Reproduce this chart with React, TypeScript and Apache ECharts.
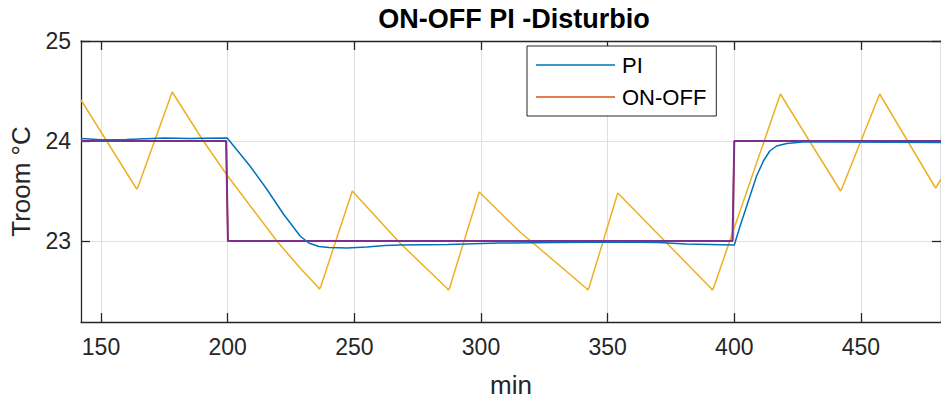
import React, { useEffect, useRef } from "react";
import * as echarts from "echarts";

// ---- data ----
const xTicks = [150, 200, 250, 300, 350, 400, 450];
const yTicks = [23, 24, 25];

const piTime = [142.1, 150, 160, 165, 175, 185, 190, 199.8, 200, 204, 208.8, 215.4, 222, 228.6, 232, 236, 240, 247, 255, 262, 268, 287, 307, 330, 355, 370, 381, 399.5, 400, 402.3, 406.2, 408.8, 411.5, 414, 416.7, 420.7, 427, 440, 481.6];
const piTemp = [24.025, 24.012, 24.015, 24.02, 24.03, 24.025, 24.028, 24.03, 24.03, 23.9, 23.75, 23.52, 23.27, 23.05, 22.98, 22.945, 22.935, 22.93, 22.94, 22.955, 22.96, 22.965, 22.98, 22.985, 22.99, 22.985, 22.97, 22.96, 22.96, 23.15, 23.45, 23.65, 23.8, 23.9, 23.95, 23.975, 23.99, 23.99, 23.985];

const spTime = [142.1, 199.4, 200.1, 399.3, 400.0, 481.6];
const spTemp = [24, 24, 23, 23, 24, 24];

const onoffRoomTime = [142.1, 163.6, 164.1, 164.6, 178.1, 190.4, 200, 219.4, 228.6, 235.8, 236.2, 236.7, 249.2, 268, 286.7, 287.1, 287.6, 299.3, 315.4, 341.7, 342.1, 342.6, 354, 373.3, 390.9, 391.3, 391.8, 418.2, 429.9, 441.6, 442, 442.4, 457.4, 479.1, 479.5, 480, 481.6];
const onoffRoomTemp = [24.41, 23.54, 23.52, 23.54, 24.49, 24.0, 23.65, 23.0, 22.73, 22.535, 22.52, 22.54, 23.5, 22.98, 22.525, 22.51, 22.53, 23.49, 23.09, 22.525, 22.51, 22.53, 23.48, 22.98, 22.525, 22.51, 22.53, 24.47, 23.99, 23.515, 23.5, 23.52, 24.47, 23.545, 23.53, 23.55, 23.62];

const zip = (xs: number[], ys: number[]) => xs.map((x, i) => [x, ys[i]]);

const FONT = "'Liberation Sans', Arial, Helvetica, sans-serif";
const INK = "#262626";

export default function App() {
  const ref = useRef<HTMLDivElement>(null);
  useEffect(() => {
    if (!ref.current) return;
    const chart = echarts.init(ref.current, null, { renderer: "svg" });
    const axisLineStyle = { color: INK, width: 1.3 };
    chart.setOption({
      animation: false,
      backgroundColor: "#ffffff",
      textStyle: { fontFamily: FONT },
      grid: { left: 81, top: 41, width: 860, height: 283, containLabel: false },
      graphic: [
        {
          type: "text",
          x: 514,
          y: 19,
          style: {
            text: "ON-OFF PI -Disturbio",
            fontFamily: FONT,
            fontSize: 27,
            fontWeight: "bold",
            fill: "#000000",
            textAlign: "center",
            textVerticalAlign: "middle",
          },
        },
      ],
      legend: {
        show: true,
        data: [
          { name: "PI", icon: "rect" },
          { name: "ON-OFF", icon: "rect" },
        ],
        orient: "vertical",
        left: 527,
        top: 46,
        padding: [8, 10, 8, 9],
        itemWidth: 79,
        itemHeight: 1.5,
        itemGap: 10,
        backgroundColor: "#ffffff",
        borderColor: INK,
        borderWidth: 1,
        borderRadius: 0,
        textStyle: { fontFamily: FONT, fontSize: 22, color: "#000000", lineHeight: 22, padding: [0, 0, 0, 2] },
      },
      xAxis: [
        {
          type: "value",
          min: 142.1,
          max: 481.6,
          position: "bottom",
          name: "min",
          nameLocation: "middle",
          nameGap: 50,
          nameTextStyle: { fontFamily: FONT, fontSize: 26, color: INK },
          axisLine: { show: true, onZero: false, lineStyle: axisLineStyle },
          axisTick: { show: true, inside: true, length: 9, lineStyle: { color: INK, width: 1.3 }, customValues: xTicks },
          axisLabel: { show: true, customValues: xTicks, fontFamily: FONT, fontSize: 23, color: INK, margin: 13 },
          splitLine: { show: true, lineStyle: { color: "#dfdfdf", width: 1 } },
        },
        {
          type: "value",
          min: 142.1,
          max: 481.6,
          position: "top",
          axisLine: { show: true, onZero: false, lineStyle: axisLineStyle },
          axisTick: { show: true, inside: true, length: 9, lineStyle: { color: INK, width: 1.3 }, customValues: xTicks },
          axisLabel: { show: false },
          splitLine: { show: false },
        },
      ],
      yAxis: [
        {
          type: "value",
          min: 22.19,
          max: 25,
          position: "left",
          name: "Troom °C",
          nameLocation: "middle",
          nameGap: 47,
          nameRotate: 90,
          nameTextStyle: { fontFamily: FONT, fontSize: 26, color: INK },
          axisLine: { show: true, onZero: false, lineStyle: axisLineStyle },
          axisTick: { show: true, inside: true, length: 9, lineStyle: { color: INK, width: 1.3 }, customValues: yTicks },
          axisLabel: { show: true, customValues: yTicks, fontFamily: FONT, fontSize: 23, color: INK, margin: 10 },
          splitLine: { show: true, lineStyle: { color: "#dfdfdf", width: 1 } },
        },
        {
          type: "value",
          min: 22.19,
          max: 25,
          position: "right",
          axisLine: { show: true, onZero: false, lineStyle: axisLineStyle },
          axisTick: { show: true, inside: true, length: 9, lineStyle: { color: INK, width: 1.3 }, customValues: yTicks },
          axisLabel: { show: false },
          splitLine: { show: false },
        },
      ],
      series: [
        {
          name: "PI",
          type: "line",
          data: zip(piTime, piTemp),
          showSymbol: false,
          symbol: "none",
          color: "#0072BD",
          lineStyle: { color: "#0072BD", width: 1.5 },
          z: 3,
        },
        {
          name: "ON-OFF",
          type: "line",
          data: zip(spTime, spTemp),
          showSymbol: false,
          symbol: "none",
          color: "#D95319",
          lineStyle: { color: "#D95319", width: 1.5 },
          z: 2,
        },
        {
          name: "Troom ON-OFF",
          type: "line",
          data: zip(onoffRoomTime, onoffRoomTemp),
          showSymbol: false,
          symbol: "none",
          color: "#EDB120",
          lineStyle: { color: "#EDB120", width: 1.5 },
          z: 2,
        },
        {
          name: "Setpoint",
          type: "line",
          data: zip(spTime, spTemp),
          showSymbol: false,
          symbol: "none",
          color: "#7E2F8E",
          lineStyle: { color: "#7E2F8E", width: 2 },
          z: 2,
        },
      ],
    });
    return () => chart.dispose();
  }, []);
  return (
    <div
      ref={ref}
      style={{ position: "fixed", left: 0, top: 0, width: 941, height: 403, background: "#fff" }}
    />
  );
}
